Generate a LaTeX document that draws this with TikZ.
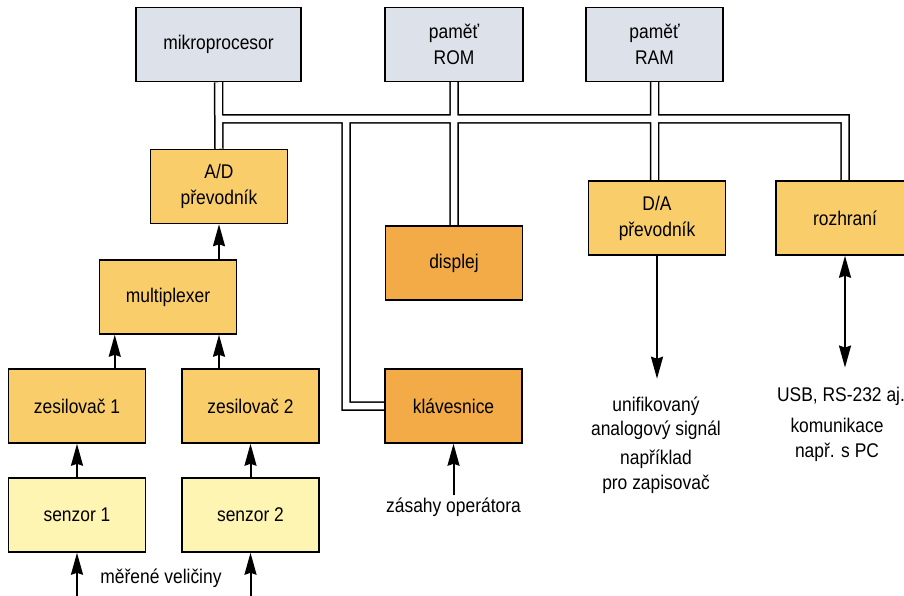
\documentclass[tikz,border=0pt]{standalone}
\usepackage{fontspec}
\setmainfont[FakeStretch=0.88]{Liberation Sans}
\usetikzlibrary{arrows.meta,calc,positioning,backgrounds}
\definecolor{cpugray}{RGB}{221,225,233}
\definecolor{unitorange}{RGB}{250,205,107}
\definecolor{iodark}{RGB}{243,171,71}
\definecolor{senyellow}{RGB}{255,245,178}

\begin{document}
\begin{tikzpicture}[
		x=1pt, y=-1pt,
		box/.style={rectangle, draw, line width=1.5pt, minimum width=137pt, minimum height=74pt, inner sep=0pt, align=center, font=\fontsize{19.8}{26}\selectfont},
		mem/.style={box, fill=cpugray},
		unit/.style={box, fill=unitorange},
		io/.style={box, fill=iodark},
		sens/.style={box, fill=senyellow},
		popis/.style={align=center, inner sep=2pt, font=\fontsize{19.8}{24.5}\selectfont},
		arr/.style={->, line width=2pt},
		>={Stealth[length=22pt, width=12pt, inset=2pt]}
		]
	\path[use as bounding box, clip] (0,0) rectangle (904,596);

	% --- pocitac nahore ---
	\node[mem, minimum width=165pt] (micro) at (218.5, 44.5) {mikroprocesor};
	\node[mem, minimum width=138pt] (rom) at (454, 44.5) {paměť\\ROM};
	\node[mem] (ram) at (654.5, 44.5) {paměť\\RAM};

	% --- mericí cast (vlevo) ---
	\node[unit] (ad) at (219, 186.5) {A/D\\převodník};
	\node[unit] (mux) at (168, 297) {multiplexer};
	\node[unit] (zes1) at (77, 406) {zesilovač 1};
	\node[unit] (zes2) at (250.5, 406) {zesilovač 2};
	\node[sens] (sen1) at (77, 515) {senzor 1};
	\node[sens] (sen2) at (250.5, 515) {senzor 2};

	% --- periferie ---
	\node[io] (disp) at (454, 263) {displej};
	\node[io] (klav) at (453.5, 406) {klávesnice};
	\node[unit] (da) at (657, 218) {D/A\\převodník};
	\node[unit, minimum width=138pt] (rozhr) at (845, 218) {rozhraní};

	% --- popisky ---
	\node[popis] (meren) at (161, 578) {měřené veličiny};
	\node[popis] (zasahy) at (453.5, 507) {zásahy operátora};
	\node[popis] (unif) at (656, 418.5) {unifikovaný\\analogový signál};
	\node[popis] (napr) at (656, 472) {například\\pro zapisovač};
	\node[popis] (usb) at (841, 396) {USB, RS-232 aj.};
	\node[popis] (komun) at (837, 440) {komunikace\\např. s PC};

	% --- sbernice (dvojita cara) ---
	\coordinate (busL) at (218.5, 119);
	\coordinate (busR) at (845, 119);
	\coordinate (kbus) at (346, 119);
	\def\sbernice{(micro.south) -- (ad.north)
		(busL) -- (busR) -- (rozhr.north)
		(rom.south) -- (disp.north)
		(ram.south) -- (ram |- da.north)
		(kbus) |- (klav.west)}
	\begin{scope}[on background layer]
		\draw[line width=9.5pt] \sbernice;
		\draw[white, line width=6.5pt] \sbernice;
	\end{scope}

	% --- sipky ---
	\draw[arr] (mux.north -| ad) -- (ad.south);
	\draw[arr] ([xshift=16]zes1.north -| mux.west) -- ([xshift=16]mux.south west);
	\draw[arr] (zes2.north -| ad) -- (mux.south -| ad);
	\draw[arr] (sen1.north) -- (zes1.south);
	\draw[arr] (sen2.north) -- (zes2.south);
	\draw[arr] ([yshift=-46]sen1.south) -- (sen1.south);
	\draw[arr] ([yshift=-46]sen2.south) -- (sen2.south);
	\draw[arr] (zasahy.north) -- (klav.south);
	\draw[arr, shorten >=16pt] (da.south) -- (da.south |- unif.north);
	\draw[arr, <->, shorten >=17pt] (rozhr.south) -- (rozhr.south |- usb.north);

\end{tikzpicture}
\end{document}
